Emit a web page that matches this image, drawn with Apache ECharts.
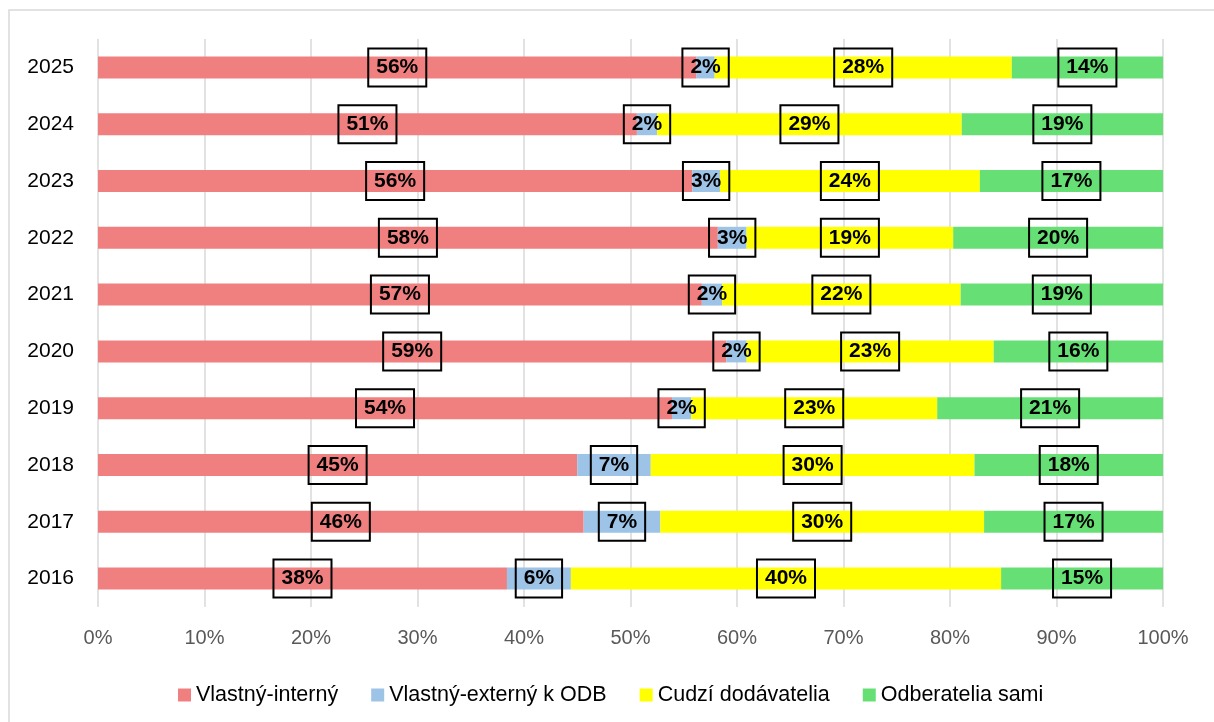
<!DOCTYPE html>
<html>
<head>
<meta charset="utf-8">
<script src="https://cdn.jsdelivr.net/npm/echarts@6/dist/echarts.min.js"></script>
<style>
  html, body { margin: 0; padding: 0; background: #fff; }
  #chart { width: 1214px; height: 722px; }
</style>
</head>
<body>
<div id="chart"></div>
<script>
  // roky odspodu nahor
  const years = ['2016', '2017', '2018', '2019', '2020', '2021', '2022', '2023', '2024', '2025']
  const internal = [38.4, 45.6, 45.0, 53.9, 59.0, 56.7, 58.2, 55.8, 50.6, 56.2]
  const externalOdb = [6.0, 7.2, 6.9, 1.8, 1.9, 1.9, 2.7, 2.6, 1.9, 1.7]
  const suppliers = [40.4, 30.4, 30.4, 23.1, 23.2, 22.4, 19.4, 24.4, 28.6, 27.9]
  const customers = [15.2, 16.8, 17.7, 21.2, 15.9, 19.0, 19.7, 17.2, 18.9, 14.2]
  const seriesNames = ['Vlastný-interný', 'Vlastný-externý k ODB', 'Cudzí dodávatelia', 'Odberatelia sami']
  const xTicks = [0, 10, 20, 30, 40, 50, 60, 70, 80, 90, 100]

  const font = 'Liberation Sans, Arial, sans-serif'
  const colors = ['#F08080', '#9DC3E6', '#FFFF00', '#66E075']

  const labelStyle = {
    show: true,
    position: 'inside',
    formatter: p => Math.round(p.value) + '%',
    fontFamily: font,
    fontSize: 21,
    fontWeight: 'bold',
    color: '#000',
    borderColor: '#000',
    borderWidth: 2,
    padding: [9, 8, 8, 8],
    lineHeight: 21
  }

  const makeSeries = (name, data, i) => ({
    name: name,
    type: 'bar',
    stack: 'total',
    barWidth: 22,
    data: data,
    itemStyle: { color: colors[i] },
    label: labelStyle
  })

  const chart = echarts.init(document.getElementById('chart'))
  chart.setOption({
    animation: false,
    backgroundColor: '#fff',
    textStyle: { fontFamily: font },
    graphic: [{
      type: 'rect',
      shape: { x: 9, y: 10, width: 1400, height: 900 },
      style: { fill: 'none', stroke: '#d9d9d9', lineWidth: 1.5 },
      silent: true
    }],
    grid: { left: 98, right: 51, top: 39, bottom: 115, outerBoundsMode: 'none' },
    legend: {
      left: 173,
      top: 679,
      itemWidth: 13,
      itemHeight: 13,
      itemGap: 33,
      icon: 'rect',
      textStyle: { fontFamily: font, fontSize: 21.5, color: '#000' },
      data: seriesNames
    },
    xAxis: {
      type: 'value',
      min: xTicks[0],
      max: xTicks[xTicks.length - 1],
      interval: 10,
      axisLine: { show: false },
      axisTick: { show: false },
      axisLabel: { formatter: '{value}%', color: '#595959', fontSize: 20, margin: 21 },
      splitLine: { lineStyle: { color: '#d9d9d9', width: 1.5 } }
    },
    yAxis: {
      type: 'category',
      data: years,
      axisLine: { show: false },
      axisTick: { show: false },
      axisLabel: { color: '#000', fontSize: 21, margin: 24 }
    },
    series: [
      makeSeries(seriesNames[0], internal, 0),
      makeSeries(seriesNames[1], externalOdb, 1),
      makeSeries(seriesNames[2], suppliers, 2),
      makeSeries(seriesNames[3], customers, 3)
    ]
  })
</script>
</body>
</html>
